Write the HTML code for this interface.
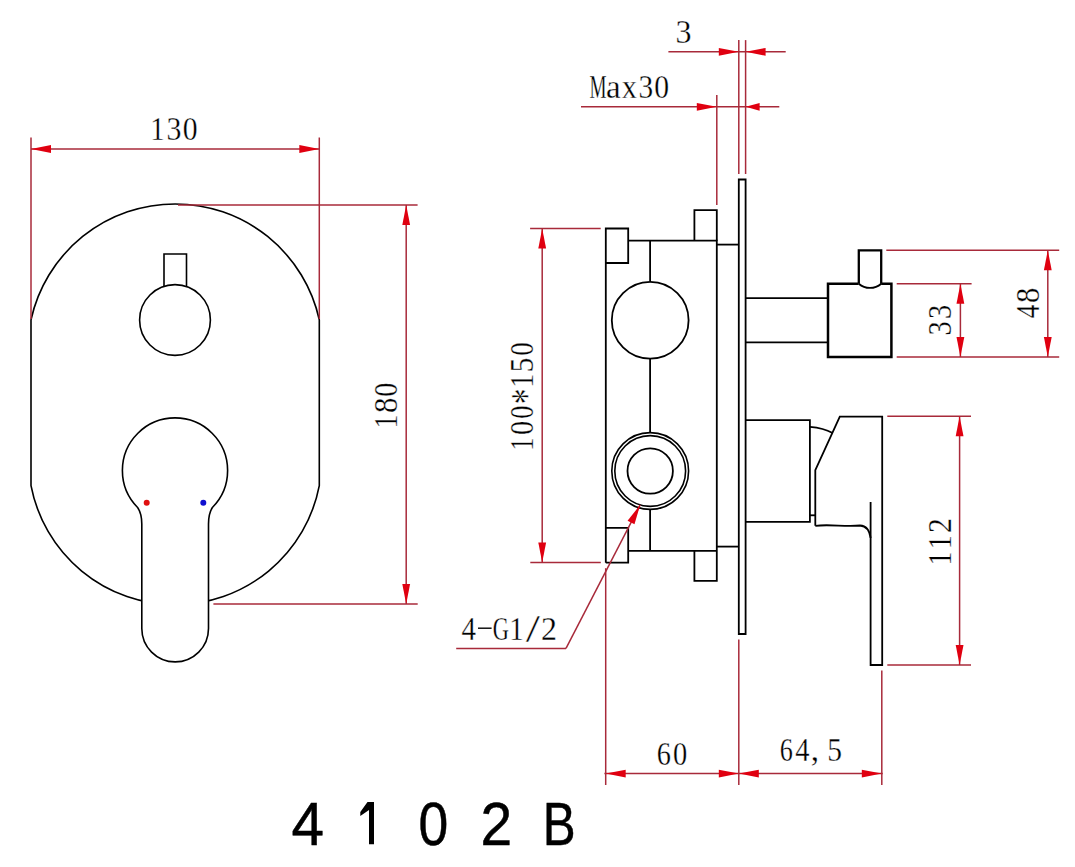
<!DOCTYPE html>
<html><head><meta charset="utf-8"><style>
html,body{margin:0;padding:0;background:#fff;}
svg{display:block;}
.t{font-family:"Liberation Serif",serif;font-size:33px;fill:#000;stroke:#fff;stroke-width:0.3px;}
.b{font-family:"Liberation Sans",sans-serif;font-size:61.3px;fill:#000;stroke:#000;stroke-width:0.5px;}
</style></head><body>
<svg width="1075" height="867" viewBox="0 0 1075 867">
<rect width="1075" height="867" fill="#fff"/>
<path d="M31,319.8 A147.6,147.6 0 0 1 319.3,319.8 L319.3,485.6 A146.8,146.8 0 0 1 31,485.6 Z" stroke="#000" stroke-width="1.6" fill="none" stroke-linejoin="miter"/>
<path d="M164,287 L164,254 L186.5,254 L186.5,287" stroke="#000" stroke-width="1.6" fill="none" stroke-linejoin="miter"/>
<circle cx="175" cy="320" r="35.4" stroke="#000" stroke-width="1.6" fill="none"/>
<path d="M141.8,628.5 L141.8,524 Q141.8,513.5 137.6,507.5 A52.6,52.6 0 1 1 212.4,507.5 Q208.5,513.5 208.5,524 L208.5,628.5 A33.35,33.35 0 0 1 141.8,628.5 Z" stroke="#000" stroke-width="1.6" fill="#fff" stroke-linejoin="miter"/>
<circle cx="146.7" cy="502.7" r="3" fill="#e01010"/>
<circle cx="203.3" cy="502.7" r="3" fill="#1010d0"/>
<line x1="31" y1="137.5" x2="31" y2="319" stroke="#a82a3a" stroke-width="1.5"/>
<line x1="319.3" y1="137.5" x2="319.3" y2="319" stroke="#a82a3a" stroke-width="1.5"/>
<line x1="31" y1="149" x2="319.3" y2="149" stroke="#a82a3a" stroke-width="1.5"/>
<polygon points="31.00,149.00 51.00,145.10 51.00,152.90" fill="#e00010"/>
<polygon points="319.30,149.00 299.30,152.90 299.30,145.10" fill="#e00010"/>
<line x1="178" y1="205" x2="417.6" y2="205" stroke="#a82a3a" stroke-width="1.5"/>
<line x1="213.4" y1="604" x2="417.7" y2="604" stroke="#a82a3a" stroke-width="1.5"/>
<line x1="406.2" y1="205" x2="406.2" y2="604" stroke="#a82a3a" stroke-width="1.5"/>
<polygon points="406.20,205.00 410.10,225.00 402.30,225.00" fill="#e00010"/>
<polygon points="406.20,604.00 402.30,584.00 410.10,584.00" fill="#e00010"/>
<path d="M605.8,562.7 L605.8,228.5 L628.2,228.5 L628.2,263 L605.8,263" stroke="#000" stroke-width="1.8" fill="none" stroke-linejoin="miter"/>
<path d="M605.8,527.9 L628.2,527.9 L628.2,562.7 L605.8,562.7" stroke="#000" stroke-width="1.8" fill="none" stroke-linejoin="miter"/>
<path d="M628.2,240.7 L716.8,240.7 L716.8,580.9 L694.4,580.9 L694.4,550.8" stroke="#000" stroke-width="1.8" fill="none" stroke-linejoin="miter"/>
<line x1="628.2" y1="550.8" x2="716.8" y2="550.8" stroke="#000" stroke-width="1.8"/>
<path d="M694.4,240.7 L694.4,210.2 L716.8,210.2 L716.8,240.7" stroke="#000" stroke-width="1.8" fill="none" stroke-linejoin="miter"/>
<line x1="716.8" y1="244.6" x2="738.8" y2="244.6" stroke="#000" stroke-width="1.8"/>
<line x1="716.8" y1="546.6" x2="738.8" y2="546.6" stroke="#000" stroke-width="1.8"/>
<line x1="650.1" y1="240.7" x2="650.1" y2="281.3" stroke="#000" stroke-width="1.8"/>
<line x1="650.1" y1="359.1" x2="650.1" y2="432" stroke="#000" stroke-width="1.8"/>
<line x1="650.1" y1="510" x2="650.1" y2="550.8" stroke="#000" stroke-width="1.8"/>
<circle cx="650.2" cy="320.2" r="38.4" stroke="#000" stroke-width="1.8" fill="none"/>
<circle cx="650.2" cy="471" r="38.4" stroke="#000" stroke-width="1.6" fill="none"/>
<circle cx="650.2" cy="471" r="35.4" stroke="#000" stroke-width="1.6" fill="none"/>
<circle cx="650.2" cy="471" r="22.7" stroke="#000" stroke-width="1.8" fill="none"/>
<path d="M738.8,634 L738.8,179.5 L745.6,179.5 L745.6,634 Z" stroke="#000" stroke-width="1.8" fill="none" stroke-linejoin="miter"/>
<line x1="745.6" y1="298.1" x2="828" y2="298.1" stroke="#000" stroke-width="1.8"/>
<line x1="745.6" y1="342.4" x2="828" y2="342.4" stroke="#000" stroke-width="1.8"/>
<path d="M858.6,283.7 L828,283.7 L828,357.1 L891.4,357.1 L891.4,283.7 L881.2,283.7" stroke="#000" stroke-width="2.5" fill="none" stroke-linejoin="miter"/>
<path d="M858.8,283.7 L858.8,250.3 L881.2,250.3 L881.2,283.7" stroke="#000" stroke-width="2.3" fill="none" stroke-linejoin="miter"/>
<path d="M881.2,283.7 A17,17 0 0 1 858.8,283.7" stroke="#000" stroke-width="1.9" fill="none" stroke-linejoin="miter"/>
<path d="M745.6,420.2 L809.9,420.2 L809.9,521.8 L745.6,521.8" stroke="#000" stroke-width="1.8" fill="none" stroke-linejoin="miter"/>
<path d="M809.9,426.8 Q824,428 832.1,432.8" stroke="#000" stroke-width="1.8" fill="none" stroke-linejoin="miter"/>
<path d="M809.9,515.3 L815.3,515.3" stroke="#000" stroke-width="1.8" fill="none" stroke-linejoin="miter"/>
<path d="M815.3,525.8 L815.3,470.1 L839.8,416.6 L882.2,416.6 L882.2,665 L870.6,665 L870.6,502" stroke="#000" stroke-width="1.8" fill="none" stroke-linejoin="miter"/>
<path d="M815.3,525.8 C830,524 845,527 860,525.5 Q869,526 870.6,538" stroke="#000" stroke-width="1.8" fill="none" stroke-linejoin="miter"/>
<line x1="738.8" y1="40.1" x2="738.8" y2="174" stroke="#a82a3a" stroke-width="1.5"/>
<line x1="745.6" y1="40.1" x2="745.6" y2="174" stroke="#a82a3a" stroke-width="1.5"/>
<line x1="668.4" y1="51.8" x2="785.7" y2="51.8" stroke="#a82a3a" stroke-width="1.5"/>
<polygon points="738.80,51.80 718.80,55.70 718.80,47.90" fill="#e00010"/>
<polygon points="745.60,51.80 765.60,47.90 765.60,55.70" fill="#e00010"/>
<line x1="716.8" y1="95.1" x2="716.8" y2="205" stroke="#a82a3a" stroke-width="1.5"/>
<line x1="581" y1="106.8" x2="779.3" y2="106.8" stroke="#a82a3a" stroke-width="1.5"/>
<polygon points="716.80,106.80 696.80,110.70 696.80,102.90" fill="#e00010"/>
<polygon points="745.60,106.80 759.60,102.90 759.60,110.70" fill="#e00010"/>
<line x1="530.1" y1="228.5" x2="600.7" y2="228.5" stroke="#a82a3a" stroke-width="1.5"/>
<line x1="530.3" y1="562.6" x2="600.8" y2="562.6" stroke="#a82a3a" stroke-width="1.5"/>
<line x1="542.2" y1="228.5" x2="542.2" y2="562.6" stroke="#a82a3a" stroke-width="1.5"/>
<polygon points="542.20,228.50 546.10,248.50 538.30,248.50" fill="#e00010"/>
<polygon points="542.20,562.60 538.30,542.60 546.10,542.60" fill="#e00010"/>
<line x1="456.2" y1="648.4" x2="566" y2="648.4" stroke="#a82a3a" stroke-width="1.5"/>
<line x1="566" y1="648.4" x2="640.2" y2="504.8" stroke="#a82a3a" stroke-width="1.5"/>
<polygon points="640.20,504.80 634.48,524.36 627.55,520.78" fill="#e00010"/>
<line x1="886.3" y1="250.3" x2="1059.2" y2="250.3" stroke="#a82a3a" stroke-width="1.5"/>
<line x1="896.7" y1="283.7" x2="971.6" y2="283.7" stroke="#a82a3a" stroke-width="1.5"/>
<line x1="896.7" y1="357" x2="1059.2" y2="357" stroke="#a82a3a" stroke-width="1.5"/>
<line x1="960.4" y1="283.7" x2="960.4" y2="357" stroke="#a82a3a" stroke-width="1.5"/>
<polygon points="960.40,283.70 964.30,303.70 956.50,303.70" fill="#e00010"/>
<polygon points="960.40,357.00 956.50,337.00 964.30,337.00" fill="#e00010"/>
<line x1="1047.8" y1="250.3" x2="1047.8" y2="357" stroke="#a82a3a" stroke-width="1.5"/>
<polygon points="1047.80,250.30 1051.70,270.30 1043.90,270.30" fill="#e00010"/>
<polygon points="1047.80,357.00 1043.90,337.00 1051.70,337.00" fill="#e00010"/>
<line x1="887.3" y1="416.3" x2="971" y2="416.3" stroke="#a82a3a" stroke-width="1.5"/>
<line x1="887.3" y1="665" x2="971" y2="665" stroke="#a82a3a" stroke-width="1.5"/>
<line x1="959.6" y1="416.3" x2="959.6" y2="665" stroke="#a82a3a" stroke-width="1.5"/>
<polygon points="959.60,416.30 963.50,436.30 955.70,436.30" fill="#e00010"/>
<polygon points="959.60,665.00 955.70,645.00 963.50,645.00" fill="#e00010"/>
<line x1="605.7" y1="568.2" x2="605.7" y2="785" stroke="#a82a3a" stroke-width="1.5"/>
<line x1="738.8" y1="639.4" x2="738.8" y2="785" stroke="#a82a3a" stroke-width="1.5"/>
<line x1="881.8" y1="670.5" x2="881.8" y2="785" stroke="#a82a3a" stroke-width="1.5"/>
<line x1="604.4" y1="773.6" x2="882.7" y2="773.6" stroke="#a82a3a" stroke-width="1.5"/>
<polygon points="605.70,773.60 625.70,769.70 625.70,777.50" fill="#e00010"/>
<polygon points="738.80,773.60 718.80,777.50 718.80,769.70" fill="#e00010"/>
<polygon points="738.80,773.60 758.80,769.70 758.80,777.50" fill="#e00010"/>
<polygon points="881.80,773.60 861.80,777.50 861.80,769.70" fill="#e00010"/>
<text transform="translate(157.85,139.6) scale(0.8707,1.0000)" x="-8.70" y="0.00" class="t">1</text>
<text transform="translate(174.05,139.6) scale(0.9044,1.0000)" x="-8.40" y="0.00" class="t">3</text>
<text transform="translate(190.05,139.6) scale(0.8993,1.0000)" x="-8.25" y="0.00" class="t">0</text>
<text transform="translate(683.6,42.5) scale(0.9706,1.0000)" x="-8.40" y="0.00" class="t">3</text>
<text transform="translate(598,97.8) scale(0.5803,1.0000)" x="-14.70" y="0.00" class="t">M</text>
<text transform="translate(613.7,97.8) scale(1.0000,1.0000)" x="-7.70" y="0.00" class="t">a</text>
<text transform="translate(629.2,97.8) scale(0.9241,1.0000)" x="-8.20" y="0.00" class="t">x</text>
<text transform="translate(646,97.8) scale(0.8897,1.0000)" x="-8.40" y="0.00" class="t">3</text>
<text transform="translate(661.7,97.8) scale(0.8993,1.0000)" x="-8.25" y="0.00" class="t">0</text>
<text transform="translate(396.8,421.2) rotate(-90) scale(0.8362,1.0000)" x="-8.70" y="0.00" class="t">1</text>
<text transform="translate(396.8,405.4) rotate(-90) scale(0.9353,1.0000)" x="-8.25" y="0.00" class="t">8</text>
<text transform="translate(396.8,389.8) rotate(-90) scale(0.8489,1.0000)" x="-8.25" y="0.00" class="t">0</text>
<text transform="translate(532.6,443.7) rotate(-90) scale(0.8017,1.0000)" x="-8.70" y="0.00" class="t">1</text>
<text transform="translate(532.6,427.9) rotate(-90) scale(0.8561,1.0000)" x="-8.25" y="0.00" class="t">0</text>
<text transform="translate(532.6,412.1) rotate(-90) scale(0.7986,1.0000)" x="-8.25" y="0.00" class="t">0</text>
<text transform="translate(532.6,396.3) rotate(-90) scale(0.9621,1.3223)" x="-8.30" y="6.70" class="t">*</text>
<text transform="translate(532.6,380.5) rotate(-90) scale(0.8362,1.0000)" x="-8.70" y="0.00" class="t">1</text>
<text transform="translate(532.6,364.7) rotate(-90) scale(0.8797,1.0000)" x="-8.55" y="0.00" class="t">5</text>
<text transform="translate(532.6,348.9) rotate(-90) scale(0.8201,1.0000)" x="-8.25" y="0.00" class="t">0</text>
<text transform="translate(951,328.2) rotate(-90) scale(0.8603,1.0000)" x="-8.40" y="0.00" class="t">3</text>
<text transform="translate(951,311.9) rotate(-90) scale(0.8603,1.0000)" x="-8.40" y="0.00" class="t">3</text>
<text transform="translate(1039,311.3) rotate(-90) scale(0.8247,1.0000)" x="-8.30" y="0.00" class="t">4</text>
<text transform="translate(1039,295.3) rotate(-90) scale(0.9281,1.0000)" x="-8.25" y="0.00" class="t">8</text>
<text transform="translate(950.8,558.1) rotate(-90) scale(0.8448,1.0000)" x="-8.70" y="0.00" class="t">1</text>
<text transform="translate(950.8,541.9) rotate(-90) scale(0.8448,1.0000)" x="-8.70" y="0.00" class="t">1</text>
<text transform="translate(950.8,525.8) rotate(-90) scale(0.9015,1.0000)" x="-8.10" y="0.00" class="t">2</text>
<text transform="translate(468.7,639.6) scale(0.8766,1.0000)" x="-8.30" y="0.00" class="t">4</text>
<line x1="478.00" y1="628.20" x2="491.60" y2="628.20" stroke="#000" stroke-width="1.4"/>
<text transform="translate(501,639.6) scale(0.6776,1.0000)" x="-12.10" y="0.00" class="t">G</text>
<text transform="translate(516.9,639.6) scale(0.8793,1.0000)" x="-8.70" y="0.00" class="t">1</text>
<text transform="translate(532.8,639.6) scale(1.5543,1.2036)" x="-4.60" y="1.66" class="t">/</text>
<text transform="translate(548.9,639.6) scale(0.9697,1.0000)" x="-8.10" y="0.00" class="t">2</text>
<text transform="translate(664,764.8) scale(0.8582,1.0000)" x="-8.45" y="0.00" class="t">6</text>
<text transform="translate(680,764.8) scale(0.8633,1.0000)" x="-8.25" y="0.00" class="t">0</text>
<text transform="translate(786.5,760.6) scale(0.7943,1.0000)" x="-8.45" y="0.00" class="t">6</text>
<text transform="translate(802.5,760.6) scale(0.8636,1.0000)" x="-8.30" y="0.00" class="t">4</text>
<text transform="translate(814.5,760.6) scale(1.0000,1.0000)" x="-3.75" y="0.00" class="t">,</text>
<text transform="translate(835,760.6) scale(0.8947,1.0000)" x="-8.55" y="0.00" class="t">5</text>
<text transform="translate(307.6,844.6) scale(0.9534,1)" x="-16.90" y="0" class="b">4</text>
<text transform="translate(433.5,844.6) scale(0.8722,1)" x="-17.09" y="0" class="b">0</text>
<text transform="translate(496.4,844.6) scale(0.9295,1)" x="-17.09" y="0" class="b">2</text>
<text transform="translate(559.9,844.6) scale(0.8044,1)" x="-21.36" y="0" class="b">B</text>
<path d="M374,801.9 L374,844.3 L369,844.3 L369,810 L360.3,815.9 L360.3,811.9 L367.5,801.9 Z" fill="#000"/>
</svg>
</body></html>
